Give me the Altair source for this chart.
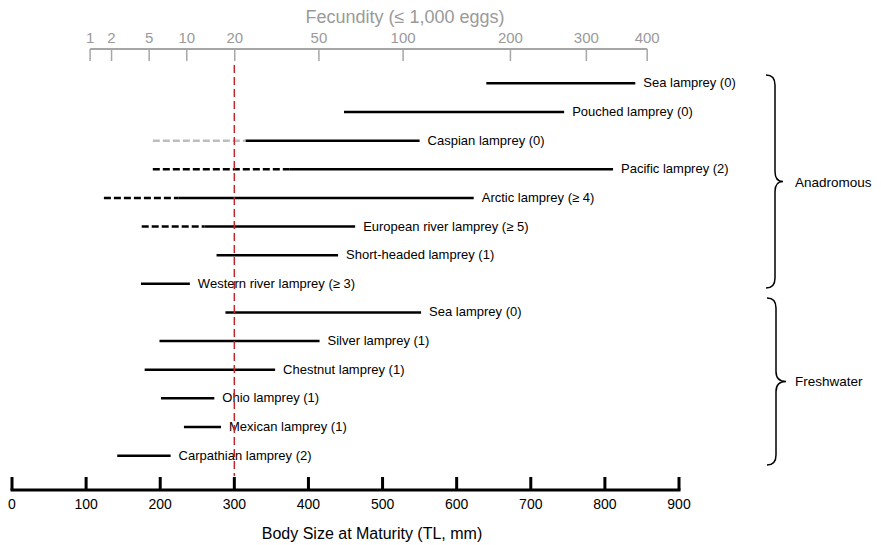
import altair as alt
import pandas as pd

# ---- data ----
row_labels = [
    "Sea lamprey (0)", "Pouched lamprey (0)", "Caspian lamprey (0)",
    "Pacific lamprey (2)", "Arctic lamprey (≥ 4)", "European river lamprey (≥ 5)",
    "Short-headed lamprey (1)", "Western river lamprey (≥ 3)",
    "Sea lamprey (0)", "Silver lamprey (1)", "Chestnut lamprey (1)",
    "Ohio lamprey (1)", "Mexican lamprey (1)", "Carpathian lamprey (2)",
]
solid_start = [640, 448, 315, 375, 225, 260, 276, 174, 288, 199, 179, 201, 232, 142]
solid_end = [841, 745, 550, 811, 623, 463, 440, 240, 552, 415, 355, 273, 282, 214]
dash_start = [None, None, 190, 190, 124, 175, None, None, None, None, None, None, None, None]
dash_kind = [None, None, "grey", "black", "black", "black", None, None, None, None, None, None, None, None]

body_ticks = [0, 100, 200, 300, 400, 500, 600, 700, 800, 900]
fec_ticks = [1, 2, 5, 10, 20, 50, 100, 200, 300, 400]
threshold_mm = [300]
fec_exponent = 0.3498   # TL ~ F^0.35 (fitted from the top-axis tick positions)
fec_max = 460            # fecundity at TL = 900 mm

group_names = ["Anadromous", "Freshwater"]
x_title = "Body Size at Maturity (TL, mm)"
top_title = "Fecundity (≤ 1,000 eggs)"

W, H = 667, 441
FONT = "Liberation Sans"
GREY = "#9a9a9a"

seg = pd.DataFrame({
    "row": list(range(len(row_labels))),
    "label": row_labels,
    "start": solid_start,
    "end": solid_end,
    "dstart": dash_start,
    "dkind": dash_kind,
})
black_dash = seg[seg["dkind"] == "black"]
grey_dash = seg[seg["dkind"] == "grey"]

n = len(row_labels)
xs = alt.Scale(domain=[0, 900], nice=False, zero=False)
ys = alt.Scale(domain=[-1.2, n - 1 + 1.2], reverse=True, nice=False, zero=False)
y = alt.Y("row:Q", scale=ys, axis=None)


def bx(field):
    return alt.X(field, scale=xs, axis=None)


solid = alt.Chart(seg).mark_rule(color="black", strokeWidth=2.5).encode(
    x=bx("start:Q"), x2="end:Q", y=y)

bdash = alt.Chart(black_dash).mark_rule(color="black", strokeWidth=2.5, strokeDash=[7, 3]).encode(
    x=bx("dstart:Q"), x2="start:Q", y=y)

gdash = alt.Chart(grey_dash).mark_rule(color="#bdbdbd", strokeWidth=2.5, strokeDash=[7, 3]).encode(
    x=bx("dstart:Q"), x2="start:Q", y=y)

labels = alt.Chart(seg).mark_text(align="left", baseline="middle", dx=8, fontSize=13,
                                  font=FONT, color="black").encode(
    x=bx("end:Q"), y=y, text="label:N")

red = alt.Chart(pd.DataFrame({"t": threshold_mm})).mark_rule(
    color="#c0272d", strokeWidth=1.5, strokeDash=[8, 4]).encode(
    x=bx("t:Q"), y=alt.value(16), y2=alt.value(427))

# bottom axis (ticks pointing inward)
bt = pd.DataFrame({"v": body_ticks})
axis_line = alt.Chart(bt).mark_rule(color="black", strokeWidth=3, strokeCap="square").encode(
    x=bx("min(v):Q"), x2="max(v):Q", y=alt.value(H))
axis_ticks = alt.Chart(bt).mark_rule(color="black", strokeWidth=3).encode(
    x=bx("v:Q"), y=alt.value(H - 13), y2=alt.value(H))
axis_labels = alt.Chart(bt).mark_text(baseline="alphabetic", align="center", fontSize=14,
                                      font=FONT, color="black").encode(
    x=bx("v:Q"), y=alt.value(H + 19), text=alt.Text("v:Q", format="d"))
axis_title = alt.Chart(pd.DataFrame({"t": [x_title]})).mark_text(
    baseline="alphabetic", align="center", fontSize=16, font=FONT, color="black").encode(
    x=alt.value(360), y=alt.value(H + 49), text="t:N")


def brace_path(h, a=9, b=8, r=10):
    return (f"M {-a} {-h} Q 0 {-h} 0 {-h + r} L 0 {-r} Q 0 0 {b} 0 "
            f"Q 0 0 0 {r} L 0 {h - r} Q 0 {h} {-a} {h}")


one = pd.DataFrame({"k": [0]})
brace_a = alt.Chart(one).mark_point(shape=brace_path(106.5), size=4, filled=False, color="black",
                                    strokeWidth=1.5, opacity=1).encode(x=alt.value(763), y=alt.value(132.5))
brace_f = alt.Chart(one).mark_point(shape=brace_path(83.5, b=10), size=4, filled=False, color="black",
                                    strokeWidth=1.5, opacity=1).encode(x=alt.value(764), y=alt.value(332.5))
text_a = alt.Chart(pd.DataFrame({"g": group_names[:1]})).mark_text(
    align="left", baseline="middle", fontSize=13.5, font=FONT, color="black").encode(
    x=alt.value(783), y=alt.value(134), text="g:N")
text_f = alt.Chart(pd.DataFrame({"g": group_names[1:]})).mark_text(
    align="left", baseline="middle", fontSize=13.5, font=FONT, color="black").encode(
    x=alt.value(783), y=alt.value(333), text="g:N")

# ---- top fecundity axis (own power scale) ----
fs = alt.Scale(type="pow", exponent=fec_exponent, domain=[0, fec_max], nice=False, zero=True)


def fx(field):
    return alt.X(field, scale=fs, axis=None)


fd = pd.DataFrame({"F": fec_ticks})
fec_tick_layer = alt.Chart(fd).mark_rule(color="#a6a6a6", strokeWidth=1.5).encode(
    x=fx("F:Q"), y=alt.value(0), y2=alt.value(12))
fec_line = alt.Chart(fd).mark_rule(color="#a6a6a6", strokeWidth=2).encode(
    x=fx("min(F):Q"), x2="max(F):Q", y=alt.value(0))
fec_labels = alt.Chart(fd).mark_text(baseline="alphabetic", align="center", fontSize=15,
                                     font=FONT, color=GREY).encode(
    x=fx("F:Q"), y=alt.value(-6), text=alt.Text("F:Q", format="d"))
fec_title = alt.Chart(pd.DataFrame({"t": [top_title]})).mark_text(
    baseline="alphabetic", align="center", fontSize=18, font=FONT, color=GREY).encode(
    x=alt.value(393), y=alt.value(-26), text="t:N")

chart = alt.layer(
    solid, bdash, gdash, axis_line, axis_ticks, axis_labels, axis_title, labels, red,
    brace_a, brace_f, text_a, text_f,
    fec_tick_layer, fec_line, fec_labels, fec_title,
).resolve_scale(x="independent").properties(
    width=W, height=H,
    autosize=alt.AutoSizeParams(type="none"),
    padding={"left": 4, "top": 41, "right": 194, "bottom": 55},
).configure_view(strokeOpacity=0)

chart.save("out.html", embed_options={"renderer": "svg", "actions": False})
